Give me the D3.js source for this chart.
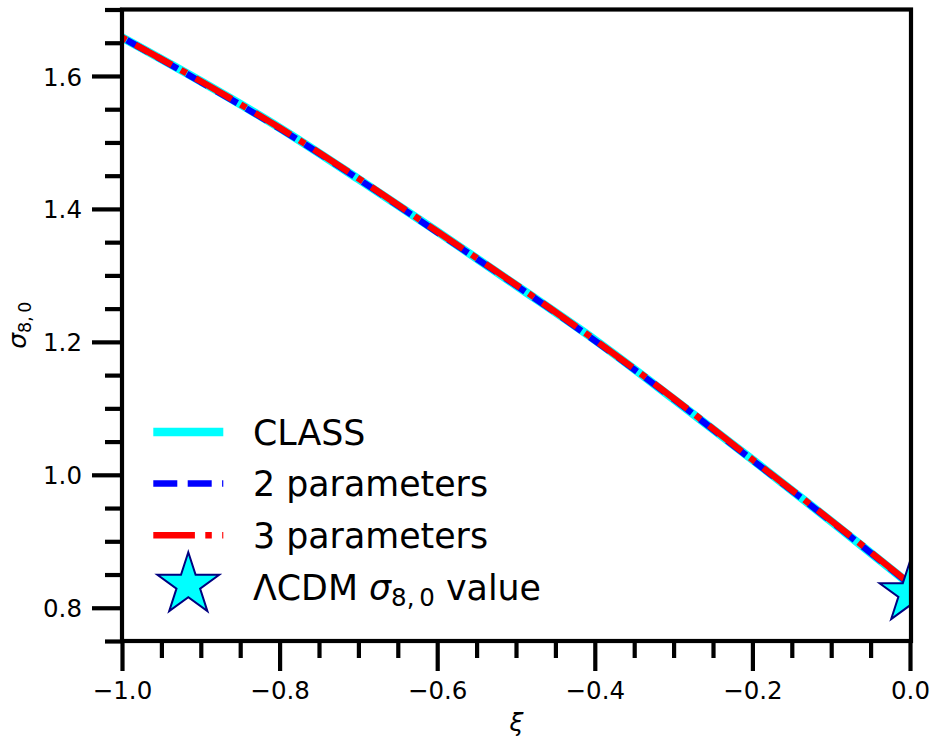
<!DOCTYPE html>
<html>
<head>
<meta charset="utf-8">
<script src="https://cdn.jsdelivr.net/npm/d3@7"></script>
<style>
  html, body { margin: 0; padding: 0; background: #fff; }
  svg { display: block; font-family: "DejaVu Sans", sans-serif; }
</style>
</head>
<body>
<svg id="chart" width="933" height="737"></svg>
<script>
// Dark-energy coupling parameter xi and the resulting sigma_8 today
const xi = [-1.0, -0.9, -0.8, -0.7, -0.6, -0.5, -0.4, -0.3, -0.2, -0.1, 0.0];
const sigmaClass = [1.658, 1.592, 1.522, 1.445, 1.366, 1.285, 1.203, 1.114, 1.023, 0.930, 0.835];
const sigmaTwoParam = [1.658, 1.591, 1.521, 1.445, 1.365, 1.285, 1.202, 1.114, 1.022, 0.930, 0.835];
const sigmaThreeParam = [1.658, 1.592, 1.522, 1.446, 1.366, 1.286, 1.203, 1.115, 1.023, 0.931, 0.836];

// LambdaCDM reference point
const lcdmXi = 0.0;
const lcdmSigma = 0.822;

const xMajorTicks = [-1.0, -0.8, -0.6, -0.4, -0.2, 0.0];
const yMajorTicks = [0.8, 1.0, 1.2, 1.4, 1.6];
const xMinorTicks = [-0.95, -0.9, -0.85, -0.75, -0.7, -0.65, -0.55, -0.5, -0.45,
                     -0.35, -0.3, -0.25, -0.15, -0.1, -0.05];
const yMinorTicks = [0.75, 0.85, 0.9, 0.95, 1.05, 1.1, 1.15, 1.25, 1.3, 1.35,
                     1.45, 1.5, 1.55, 1.65, 1.7];

const legendLabels = ["CLASS", "2 parameters", "3 parameters"];

const plotLeft = 122, plotRight = 911, plotTop = 9.5, plotBottom = 641;
const svg = d3.select("#chart");

const x = d3.scaleLinear().domain([-1.0, 0.0]).range([plotLeft, 910]);
const y = d3.scaleLinear().domain([0.75, 1.70]).range([plotBottom, plotTop]);

const LW = 4.2;
const tickFont = 24.5;

svg.append("defs").append("clipPath").attr("id", "plotClip")
  .append("rect")
  .attr("x", plotLeft).attr("y", plotTop)
  .attr("width", plotRight - plotLeft).attr("height", plotBottom - plotTop);

const plot = svg.append("g").attr("clip-path", "url(#plotClip)");

const line = d3.line()
  .x(d => x(d[0]))
  .y(d => y(d[1]))
  .curve(d3.curveMonotoneX);

const zip = vals => xi.map((v, i) => [v, vals[i]]);

plot.append("path")
  .datum(zip(sigmaClass))
  .attr("d", line)
  .attr("fill", "none")
  .attr("stroke", "#00ffff")
  .attr("stroke-width", 8.5);

plot.append("path")
  .datum(zip(sigmaTwoParam))
  .attr("d", line)
  .attr("fill", "none")
  .attr("stroke", "#0000ff")
  .attr("stroke-width", 6.5)
  .attr("stroke-dasharray", "24 10.4")
  .attr("stroke-dashoffset", 28.8);

plot.append("path")
  .datum(zip(sigmaThreeParam))
  .attr("d", line)
  .attr("fill", "none")
  .attr("stroke", "#ff0000")
  .attr("stroke-width", 6.5)
  .attr("stroke-dasharray", "41.6 10.4 6.5 10.4")
  .attr("stroke-dashoffset", 53.5);

// five-pointed star path of outer radius r
function starPath(r) {
  const inner = r * 0.381966;
  const pts = [];
  for (let i = 0; i < 10; i++) {
    const rad = i % 2 === 0 ? r : inner;
    const a = -Math.PI / 2 + i * Math.PI / 5;
    pts.push([rad * Math.cos(a), rad * Math.sin(a)]);
  }
  return "M" + pts.map(p => p[0].toFixed(2) + "," + p[1].toFixed(2)).join("L") + "Z";
}

plot.append("path")
  .attr("d", starPath(32))
  .attr("transform", `translate(${x(lcdmXi)},${y(lcdmSigma)})`)
  .attr("fill", "#00ffff")
  .attr("stroke", "#000080")
  .attr("stroke-width", 2);

// axes: major and minor ticks, labels
const fmt = d3.format(".1f");

const xAxisMajor = svg.append("g")
  .attr("transform", `translate(0,${plotBottom})`)
  .call(d3.axisBottom(x).tickValues(xMajorTicks).tickSize(30).tickSizeOuter(0)
        .tickPadding(11).tickFormat(fmt));
const xAxisMinor = svg.append("g")
  .attr("transform", `translate(0,${plotBottom})`)
  .call(d3.axisBottom(x).tickValues(xMinorTicks).tickSize(17).tickSizeOuter(0)
        .tickFormat(""));
const yAxisMajor = svg.append("g")
  .attr("transform", `translate(${plotLeft},0)`)
  .call(d3.axisLeft(y).tickValues(yMajorTicks).tickSize(30).tickSizeOuter(0)
        .tickPadding(10).tickFormat(fmt));
const yAxisMinor = svg.append("g")
  .attr("transform", `translate(${plotLeft},0)`)
  .call(d3.axisLeft(y).tickValues(yMinorTicks).tickSize(17).tickSizeOuter(0)
        .tickFormat(""));

[xAxisMajor, xAxisMinor, yAxisMajor, yAxisMinor].forEach(g => {
  g.select(".domain").remove();
  g.selectAll(".tick line").attr("stroke", "#000").attr("stroke-width", LW);
  g.selectAll(".tick text")
    .attr("fill", "#000")
    .style("font-family", "'DejaVu Sans', sans-serif")
    .style("font-size", tickFont + "px");
});
yAxisMajor.selectAll(".tick text").attr("dy", "0.37em");

// axes frame
svg.append("rect")
  .attr("x", plotLeft).attr("y", plotTop)
  .attr("width", plotRight - plotLeft).attr("height", plotBottom - plotTop)
  .attr("fill", "none")
  .attr("stroke", "#000")
  .attr("stroke-width", LW)
  .attr("stroke-linejoin", "miter");

// axis titles
svg.append("text")
  .attr("x", (plotLeft + plotRight) / 2)
  .attr("y", 731)
  .attr("text-anchor", "middle")
  .style("font-size", "25px")
  .style("font-style", "italic")
  .text("ξ");

const yTitle = svg.append("text")
  .attr("transform", `translate(26,${(plotTop + plotBottom) / 2}) rotate(-90)`)
  .attr("text-anchor", "middle")
  .style("font-size", "25px");
yTitle.append("tspan").style("font-style", "italic").text("σ");
yTitle.append("tspan").attr("dy", 5).style("font-size", "17.5px").text("8,\u20090");

// legend
const legend = svg.append("g");
const legX0 = 153.3, legX1 = 223.3, legTextX = 253;
const rowY = [432, 483.6, 535.2, 586.8];
const legFont = 34.8;

const legStyles = [
  { stroke: "#00ffff", width: 8.5, dash: null, cap: "square" },
  { stroke: "#0000ff", width: 6.5, dash: "24 10.4", cap: "butt" },
  { stroke: "#ff0000", width: 6.5, dash: "41.6 10.4 6.5 10.4", cap: "butt" }
];

legendLabels.forEach((lab, i) => {
  const s = legStyles[i];
  const ln = legend.append("line")
    .attr("x1", s.cap === "square" ? legX0 + s.width / 2 : legX0)
    .attr("x2", s.cap === "square" ? legX1 - s.width / 2 : legX1)
    .attr("y1", rowY[i]).attr("y2", rowY[i])
    .attr("stroke", s.stroke)
    .attr("stroke-width", s.width)
    .attr("stroke-linecap", s.cap);
  if (s.dash) ln.attr("stroke-dasharray", s.dash);
  legend.append("text")
    .attr("x", legTextX)
    .attr("y", rowY[i] + 12.7)
    .style("font-size", legFont + "px")
    .text(lab);
});

legend.append("path")
  .attr("d", starPath(32.5))
  .attr("transform", `translate(${(legX0 + legX1) / 2},${rowY[3] - 2})`)
  .attr("fill", "#00ffff")
  .attr("stroke", "#000080")
  .attr("stroke-width", 2);

const starLabel = legend.append("text")
  .attr("x", legTextX)
  .attr("y", rowY[3] + 12.7)
  .style("font-size", legFont + "px");
starLabel.append("tspan").text("ΛCDM ");
starLabel.append("tspan").style("font-style", "italic").text("σ");
starLabel.append("tspan").attr("dy", 6).style("font-size", "24.5px").text("8,\u20090");
starLabel.append("tspan").attr("dy", -6).text(" value");
</script>
</body>
</html>
